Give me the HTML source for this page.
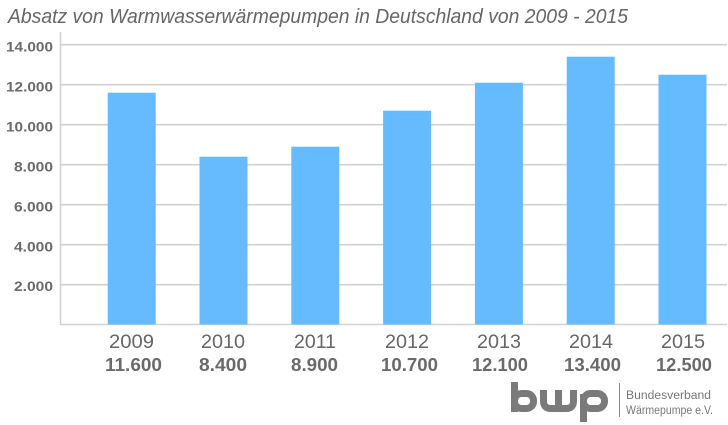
<!DOCTYPE html>
<html><head><meta charset="utf-8"><style>
html,body{margin:0;padding:0;background:#fff;}
svg{display:block;}
</style></head><body>
<svg width="728" height="425" viewBox="0 0 728 425" xmlns="http://www.w3.org/2000/svg">
<rect width="728" height="425" fill="#fff"/>
<text x="8" y="23" font-family="Liberation Sans, sans-serif" font-style="italic" font-size="20" fill="#666" textLength="620" lengthAdjust="spacingAndGlyphs">Absatz von Warmwasserwärmepumpen in Deutschland von 2009 - 2015</text>
<g stroke="#d2d2d2" stroke-width="1.6">
<line x1="60" y1="44.7" x2="727" y2="44.7"/>
<line x1="60" y1="84.7" x2="727" y2="84.7"/>
<line x1="60" y1="124.7" x2="727" y2="124.7"/>
<line x1="60" y1="164.7" x2="727" y2="164.7"/>
<line x1="60" y1="204.7" x2="727" y2="204.7"/>
<line x1="60" y1="244.7" x2="727" y2="244.7"/>
<line x1="60" y1="284.7" x2="727" y2="284.7"/>
<line x1="60" y1="324.5" x2="727" y2="324.5"/>
<line x1="60.5" y1="32" x2="60.5" y2="325"/>
</g>
<g fill="#66bbff">
<rect x="107.7" y="92.7" width="48" height="231.8"/>
<rect x="199.5" y="156.7" width="48" height="167.8"/>
<rect x="291.3" y="146.7" width="48" height="177.8"/>
<rect x="383.1" y="110.7" width="48" height="213.8"/>
<rect x="474.9" y="82.7" width="48" height="241.8"/>
<rect x="566.7" y="56.7" width="48" height="267.8"/>
<rect x="658.5" y="74.7" width="48" height="249.8"/>
</g>
<g font-family="Liberation Sans, sans-serif" font-weight="bold" font-size="13.5" fill="#6a6a6a" lengthAdjust="spacingAndGlyphs">
<text x="6" y="51.5" textLength="47" lengthAdjust="spacingAndGlyphs">14.000</text>
<text x="6" y="91.5" textLength="47" lengthAdjust="spacingAndGlyphs">12.000</text>
<text x="6" y="131.5" textLength="47" lengthAdjust="spacingAndGlyphs">10.000</text>
<text x="14" y="171.5" textLength="39" lengthAdjust="spacingAndGlyphs">8.000</text>
<text x="14" y="211.5" textLength="39" lengthAdjust="spacingAndGlyphs">6.000</text>
<text x="14" y="251.5" textLength="39" lengthAdjust="spacingAndGlyphs">4.000</text>
<text x="14" y="291" textLength="39" lengthAdjust="spacingAndGlyphs">2.000</text>
</g>
<g font-family="Liberation Sans, sans-serif" font-size="19" fill="#666">
<text x="109" y="348" textLength="45" lengthAdjust="spacingAndGlyphs">2009</text>
<text x="201" y="348" textLength="44" lengthAdjust="spacingAndGlyphs">2010</text>
<text x="294" y="348" textLength="42" lengthAdjust="spacingAndGlyphs">2011</text>
<text x="385" y="348" textLength="44" lengthAdjust="spacingAndGlyphs">2012</text>
<text x="477" y="348" textLength="44" lengthAdjust="spacingAndGlyphs">2013</text>
<text x="569" y="348" textLength="44" lengthAdjust="spacingAndGlyphs">2014</text>
<text x="661" y="348" textLength="44" lengthAdjust="spacingAndGlyphs">2015</text>
</g>
<g font-family="Liberation Sans, sans-serif" font-weight="bold" font-size="18.5" fill="#6a6a6a">
<text x="105" y="371" textLength="57" lengthAdjust="spacingAndGlyphs">11.600</text>
<text x="199" y="371" textLength="48" lengthAdjust="spacingAndGlyphs">8.400</text>
<text x="291" y="371" textLength="47" lengthAdjust="spacingAndGlyphs">8.900</text>
<text x="381" y="371" textLength="57" lengthAdjust="spacingAndGlyphs">10.700</text>
<text x="472" y="371" textLength="56" lengthAdjust="spacingAndGlyphs">12.100</text>
<text x="564" y="371" textLength="57" lengthAdjust="spacingAndGlyphs">13.400</text>
<text x="656" y="371" textLength="56" lengthAdjust="spacingAndGlyphs">12.500</text>
</g>
<g fill="none" stroke="#7a7a7a" stroke-width="7">
<line x1="514.5" y1="382" x2="514.5" y2="412"/>
<rect x="514.5" y="393.5" width="19" height="15" rx="7"/>
<path d="M543.5 390 V401 Q543.5 408.5 551 408.5 H566 Q573.5 408.5 573.5 401 V390 M558.5 390 V408.5"/>
<rect x="583.5" y="393.5" width="21" height="15" rx="7"/>
<line x1="583.5" y1="394" x2="583.5" y2="422"/>
</g>
<line x1="619.5" y1="383" x2="619.5" y2="417" stroke="#888" stroke-width="1"/>
<g font-family="Liberation Sans, sans-serif" font-size="11.5" fill="#777">
<text x="626" y="399" textLength="85" lengthAdjust="spacingAndGlyphs">Bundesverband</text>
<text x="626" y="414" textLength="87" lengthAdjust="spacingAndGlyphs">Wärmepumpe e.V.</text>
</g>
</svg>
</body></html>
